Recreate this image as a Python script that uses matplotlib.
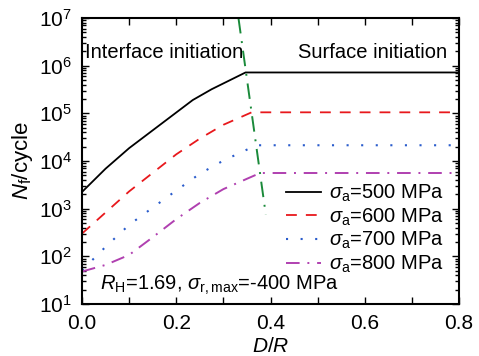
import matplotlib
matplotlib.use("Agg")
import matplotlib.pyplot as plt
from matplotlib.ticker import (LogLocator, MultipleLocator, FixedLocator,
                               LogFormatterMathtext, NullFormatter)

plt.rcParams['font.family'] = ['Liberation Sans', 'DejaVu Sans']
plt.rcParams['mathtext.fontset'] = 'custom'
plt.rcParams['mathtext.rm'] = 'Liberation Sans'
plt.rcParams['mathtext.it'] = 'Liberation Sans:italic'
plt.rcParams['mathtext.bf'] = 'Liberation Sans:bold'

# Data
d_500 = [0.0, 0.05, 0.10, 0.235, 0.275, 0.347, 0.80]
n_500 = [2240, 6900, 1.86e4, 1.9e5, 3.2e5, 7.2e5, 7.2e5]

d_600 = [0.0, 0.10, 0.20, 0.25, 0.30, 0.36, 0.80]
n_600 = [300, 2300, 1.38e4, 2.95e4, 5.75e4, 1.05e5, 1.05e5]

d_700 = [0.0, 0.05, 0.10, 0.15, 0.20, 0.25, 0.30, 0.37, 0.80]
n_700 = [51, 158, 457, 1050, 2400, 5400, 1.02e4, 2.14e4, 2.14e4]

d_800 = [0.0, 0.05, 0.10, 0.15, 0.20, 0.25, 0.30, 0.378, 0.80]
n_800 = [48, 66, 107, 251, 603, 1320, 2570, 5600, 5600]

d_bound = [0.332, 0.39]
n_bound = [1e7, 750]

y_ticks = [1e1, 1e2, 1e3, 1e4, 1e5, 1e6, 1e7]
x_ticks = [0.0, 0.2, 0.4, 0.6, 0.8]

labels = [r'$\sigma_{\mathrm{a}}$=500 MPa', r'$\sigma_{\mathrm{a}}$=600 MPa',
          r'$\sigma_{\mathrm{a}}$=700 MPa', r'$\sigma_{\mathrm{a}}$=800 MPa']

fig = plt.figure(figsize=(4.79, 3.56), dpi=100)
ax = fig.add_axes([82/479, 1-304/356, (459-82)/479, (304-18)/356])

ax.plot(d_500, n_500, color='black', lw=1.3, ls='-', label=labels[0])
ax.plot(d_600, n_600, color='#e8181c', lw=1.3, ls=(0, (6, 5)), label=labels[1])
ax.plot(d_700, n_700, color='#2a5ccc', lw=1.5, ls=(0, (1, 6)), label=labels[2])
ax.plot(d_800, n_800, color='#b040b0', lw=1.4, ls=(0, (7, 4, 1, 4)), label=labels[3])
ax.plot(d_bound, n_bound, color='#1a8a3a', lw=1.4, ls=(0, (8, 4, 1, 4)))

ax.set_yscale('log')
ax.set_xlim(0, 0.8)
ax.set_ylim(10, 1e7)
ax.xaxis.set_major_locator(FixedLocator(x_ticks))
ax.xaxis.set_minor_locator(MultipleLocator(0.1))
ax.yaxis.set_major_locator(FixedLocator(y_ticks))
ax.yaxis.set_minor_locator(LogLocator(base=10, subs=range(2, 10), numticks=100))
ax.yaxis.set_major_formatter(LogFormatterMathtext())
ax.yaxis.set_minor_formatter(NullFormatter())
ax.xaxis.set_major_formatter(plt.FuncFormatter(lambda v, p: f'{v:.1f}'))

ax.tick_params(which='both', direction='in', top=True, right=True, labelsize=15, width=1.0)
ax.tick_params(which='major', length=5)
ax.tick_params(which='minor', length=3)
ax.tick_params(axis='x', which='minor', length=5)
ax.tick_params(axis='x', which='major', pad=7)
ax.tick_params(axis='y', which='major', pad=7)
for s in ax.spines.values():
    s.set_linewidth(1.5)

ax.set_xlabel(r'$D$/$R$', fontsize=15, labelpad=0)
ax.set_ylabel(r'$N_{\mathrm{f}}$/cycle', fontsize=16)
ax.yaxis.set_label_coords(-0.125, 0.5)
ax.xaxis.set_label_coords(0.5, -0.115)
ax.xaxis.label.set_va('top')

ax.text(0.008, 0.881, 'Interface initiation', transform=ax.transAxes, fontsize=14.5,
        ha='left', va='center')
ax.text(0.968, 0.881, 'Surface initiation', transform=ax.transAxes, fontsize=14.5,
        ha='right', va='center')
ax.text(0.048, 0.066, r'$R_{\mathrm{H}}$=1.69, $\sigma_{\mathrm{r,max}}$=-400 MPa',
        transform=ax.transAxes, fontsize=14.5, ha='left', va='center')

ax.legend(loc='center right', bbox_to_anchor=(0.96, 0.263), frameon=False, fontsize=14.5,
          handlelength=1.75, labelspacing=0.12, borderaxespad=0, borderpad=0,
          handletextpad=0.4)

fig.savefig('out.png', dpi=100)
